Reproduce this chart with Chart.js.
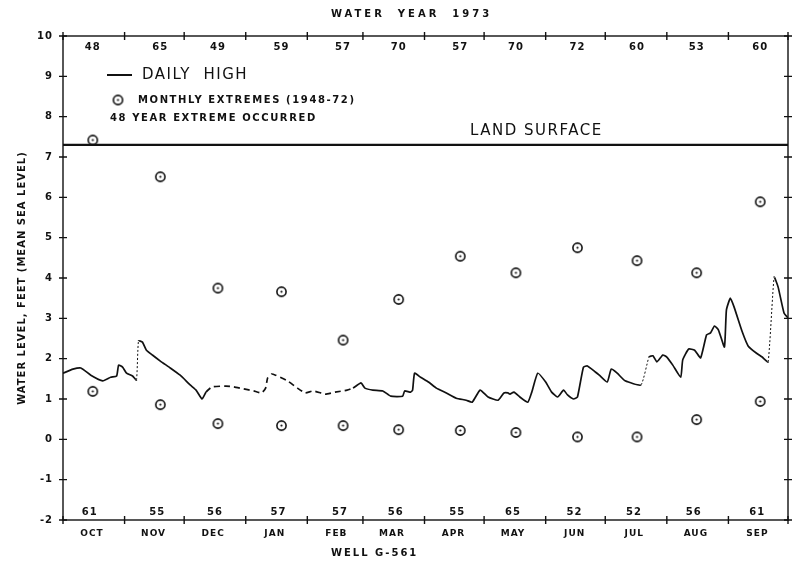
<!DOCTYPE html>
<html>
<head>
<meta charset="utf-8">
<title>Well G-561, water year 1973</title>
<script src="https://cdn.jsdelivr.net/npm/chart.js@4.4.0/dist/chart.umd.min.js"></script>
<style>
  html, body { margin: 0; padding: 0; background: #fff; }
  #wrap { width: 802px; height: 564px; }
</style>
</head>
<body>
<div id="wrap"><canvas id="well"></canvas></div>
<script>
// water year runs Oct 1 (day 0) to Sep 30 (day 365)
const months = ['OCT', 'NOV', 'DEC', 'JAN', 'FEB', 'MAR', 'APR', 'MAY', 'JUN', 'JUL', 'AUG', 'SEP'];
const monthStart = [0, 31, 61, 92, 123, 151, 182, 212, 243, 273, 304, 335, 365];
const levelTicks = [-2, -1, 0, 1, 2, 3, 4, 5, 6, 7, 8, 9, 10];

const landSurface = 7.3;

// daily high water level, feet above msl
const dailyDays = [
    0, 5, 9, 14, 20, 24, 27, 28, 30, 32, 35, 37, 38, 40, 42, 45, 49, 54, 59, 64,
    67, 70, 72, 75, 82, 86, 91, 96, 100, 102, 103, 105, 107, 113, 118, 122, 126, 132, 137, 143,
    146, 150, 152, 156, 161, 165, 171, 172, 175, 176, 177, 180, 184, 188, 193, 198, 203, 206, 210, 214,
    219, 222, 224, 225, 227, 230, 234, 236, 239, 243, 246, 249, 252, 254, 257, 259, 262, 264, 268, 270,
    274, 276, 279, 283, 291, 295, 297, 299, 302, 304, 307, 311, 312, 315, 318, 321, 324, 326, 328, 330,
    333, 334, 336, 338, 342, 345, 349, 352, 355, 358, 360, 363, 365
];
const dailyHigh = [
    1.64, 1.74, 1.77, 1.59, 1.45, 1.54, 1.57, 1.84, 1.79, 1.64, 1.57, 1.47, 2.44, 2.41, 2.21, 2.09, 1.94, 1.77, 1.59, 1.35,
    1.22, 1.00, 1.17, 1.30, 1.32, 1.30, 1.25, 1.20, 1.15, 1.27, 1.52, 1.62, 1.59, 1.45, 1.27, 1.15, 1.20, 1.12, 1.17, 1.22,
    1.27, 1.40, 1.27, 1.22, 1.20, 1.07, 1.07, 1.20, 1.17, 1.22, 1.64, 1.54, 1.42, 1.27, 1.15, 1.02, 0.97, 0.92, 1.22, 1.05,
    0.97, 1.15, 1.15, 1.12, 1.17, 1.05, 0.92, 1.17, 1.64, 1.42, 1.17, 1.05, 1.22, 1.10, 1.00, 1.05, 1.79, 1.82, 1.67, 1.59,
    1.42, 1.74, 1.64, 1.45, 1.35, 2.04, 2.07, 1.92, 2.09, 2.04, 1.84, 1.54, 1.97, 2.24, 2.21, 2.02, 2.59, 2.64, 2.81, 2.71,
    2.29, 3.21, 3.50, 3.26, 2.66, 2.31, 2.14, 2.04, 1.92, 4.02, 3.78, 3.13, 3.01
];

// monthly extremes 1948-72 and the year each occurred
const extremeDays = [15, 49, 78, 110, 141, 169, 200, 228, 259, 289, 319, 351];
const highExtremes = [7.42, 6.51, 3.75, 3.66, 2.46, 3.47, 4.54, 4.13, 4.75, 4.43, 4.13, 5.89];
const highYears = ['48', '65', '49', '59', '57', '70', '57', '70', '72', '60', '53', '60'];
const lowExtremes = [1.19, 0.86, 0.39, 0.34, 0.34, 0.24, 0.22, 0.17, 0.06, 0.06, 0.49, 0.94];
const lowYears = ['61', '55', '56', '57', '57', '56', '55', '65', '52', '52', '56', '61'];

const ink = '#111';
const FONT = '"DejaVu Sans", sans-serif';

// segments that start on these days are broken (record gaps / sudden rises)
const gapStarts = [37, 291, 355];

// circle with a dot in the middle
function ringMark() {
    const c = document.createElement('canvas');
    c.width = c.height = 13;
    const g = c.getContext('2d');
    g.strokeStyle = ink;
    g.lineWidth = 1.6;
    g.beginPath();
    g.arc(6.5, 6.5, 4.6, 0, Math.PI * 2);
    g.stroke();
    g.fillStyle = ink;
    g.beginPath();
    g.arc(6.5, 6.5, 1.1, 0, Math.PI * 2);
    g.fill();
    return c;
}
const ring = ringMark();

const spacing = {
    id: 'spacing',
    beforeUpdate(chart) { chart.ctx.letterSpacing = '1px'; },
    beforeDraw(chart) { chart.ctx.letterSpacing = '1px'; }
};

// box round the plot with "+" ticks on all four sides
const frame = {
    id: 'frame',
    afterDraw(chart) {
        const ctx = chart.ctx;
        const { left, right, top, bottom } = chart.chartArea;
        const x = chart.scales.x, y = chart.scales.y;
        ctx.save();
        ctx.strokeStyle = ink;
        ctx.lineWidth = 1.4;
        ctx.strokeRect(left, top, right - left, bottom - top);
        ctx.beginPath();
        monthStart.forEach(d => {
            const px = x.getPixelForValue(d);
            ctx.moveTo(px, top - 4); ctx.lineTo(px, top + 4);
            ctx.moveTo(px, bottom - 4); ctx.lineTo(px, bottom + 4);
        });
        levelTicks.forEach(v => {
            const py = y.getPixelForValue(v);
            ctx.moveTo(left - 4, py); ctx.lineTo(left + 4, py);
            ctx.moveTo(right - 4, py); ctx.lineTo(right + 4, py);
        });
        ctx.stroke();
        ctx.restore();
    }
};

function text(ctx, str, x, y, font, spacingPx, align) {
    ctx.font = font;
    ctx.letterSpacing = spacingPx + 'px';
    ctx.textAlign = align || 'left';
    ctx.fillText(str, x, y);
}

const notes = {
    id: 'notes',
    afterDraw(chart) {
        const ctx = chart.ctx;
        const { top, bottom } = chart.chartArea;
        const x = chart.scales.x, y = chart.scales.y;
        ctx.save();
        ctx.fillStyle = ink;
        ctx.textBaseline = 'middle';

        text(ctx, 'WATER  YEAR  1973', 331, 14, 'bold 10px ' + FONT, 3);
        text(ctx, 'WELL G-561', 331, 553, 'bold 10px ' + FONT, 2);

        // legend
        ctx.strokeStyle = ink;
        ctx.lineWidth = 2;
        ctx.beginPath();
        ctx.moveTo(107, 75); ctx.lineTo(132, 75);
        ctx.stroke();
        text(ctx, 'DAILY  HIGH', 142, 75, '15px ' + FONT, 1.5);
        ctx.drawImage(ring, 118 - 6.5, 100 - 6.5);
        text(ctx, 'MONTHLY EXTREMES (1948-72)', 138, 100, 'bold 10px ' + FONT, 1.6);
        text(ctx, '48 YEAR EXTREME OCCURRED', 110, 118, 'bold 10px ' + FONT, 1.6);

        text(ctx, 'LAND SURFACE', 470, y.getPixelForValue(landSurface) - 14, '15px ' + FONT, 1.5);

        // year of each extreme, highs along the top, lows along the bottom
        extremeDays.forEach((d, i) => {
            const px = x.getPixelForValue(d);
            text(ctx, highYears[i], px, top + 11, 'bold 10px ' + FONT, 1, 'center');
            text(ctx, lowYears[i], px - 3, bottom - 8, 'bold 10px ' + FONT, 1, 'center');
        });
        ctx.restore();
    }
};

const ctx = document.getElementById('well');
new Chart(ctx, {
    type: 'line',
    data: {
        datasets: [
            {
                label: 'DAILY HIGH',
                data: dailyDays.map((d, i) => ({ x: d, y: dailyHigh[i] })),
                borderColor: ink,
                borderWidth: 1.7,
                pointRadius: 0,
                tension: 0.15,
                segment: {
                    borderDash: c => {
                        const a = c.p0.parsed, b = c.p1.parsed;
                        if (gapStarts.includes(a.x)) return [2, 2];
                        if (a.x >= 72 && b.x <= 146) return [6, 4];
                        return undefined;
                    },
                    borderWidth: c => gapStarts.includes(c.p0.parsed.x) ? 1 : undefined
                }
            },
            {
                label: 'LAND SURFACE',
                data: [{ x: 0, y: landSurface }, { x: 365, y: landSurface }],
                borderColor: ink,
                borderWidth: 2.2,
                pointRadius: 0
            },
            {
                label: 'MONTHLY HIGH',
                data: extremeDays.map((d, i) => ({ x: d, y: highExtremes[i] })),
                showLine: false,
                pointStyle: ring,
                pointRadius: 6
            },
            {
                label: 'MONTHLY LOW',
                data: extremeDays.map((d, i) => ({ x: d, y: lowExtremes[i] })),
                showLine: false,
                pointStyle: ring,
                pointRadius: 6
            }
        ]
    },
    options: {
        responsive: true,
        maintainAspectRatio: false,
        animation: false,
        layout: {
            padding: { top: 36, right: 14, left: 0, bottom: 0 }
        },
        plugins: {
            legend: { display: false },
            tooltip: { enabled: false }
        },
        scales: {
            x: {
                type: 'linear',
                min: 0,
                max: 365,
                afterBuildTicks: scale => {
                    scale.ticks = monthStart.map(v => ({ value: v }));
                },
                afterFit: scale => { scale.height = 44; },
                grid: { display: false },
                border: { display: false },
                ticks: {
                    autoSkip: false,
                    maxRotation: 0,
                    labelOffset: 29,
                    padding: 0,
                    color: ink,
                    font: { family: FONT, size: 9, weight: 'bold' },
                    callback: (v, i) => months[i] || ''
                }
            },
            y: {
                min: -2,
                max: 10,
                afterBuildTicks: scale => {
                    scale.ticks = levelTicks.map(v => ({ value: v }));
                },
                afterFit: scale => { scale.width = 63; },
                grid: { display: false },
                border: { display: false },
                ticks: {
                    padding: 2,
                    color: ink,
                    font: { family: FONT, size: 10, weight: 'bold' }
                },
                title: {
                    display: true,
                    text: 'WATER LEVEL, FEET (MEAN SEA LEVEL)',
                    color: ink,
                    font: { family: FONT, size: 10, weight: 'bold' },
                    padding: { top: 16, bottom: 0 }
                }
            }
        }
    },
    plugins: [spacing, frame, notes]
});
</script>
</body>
</html>
